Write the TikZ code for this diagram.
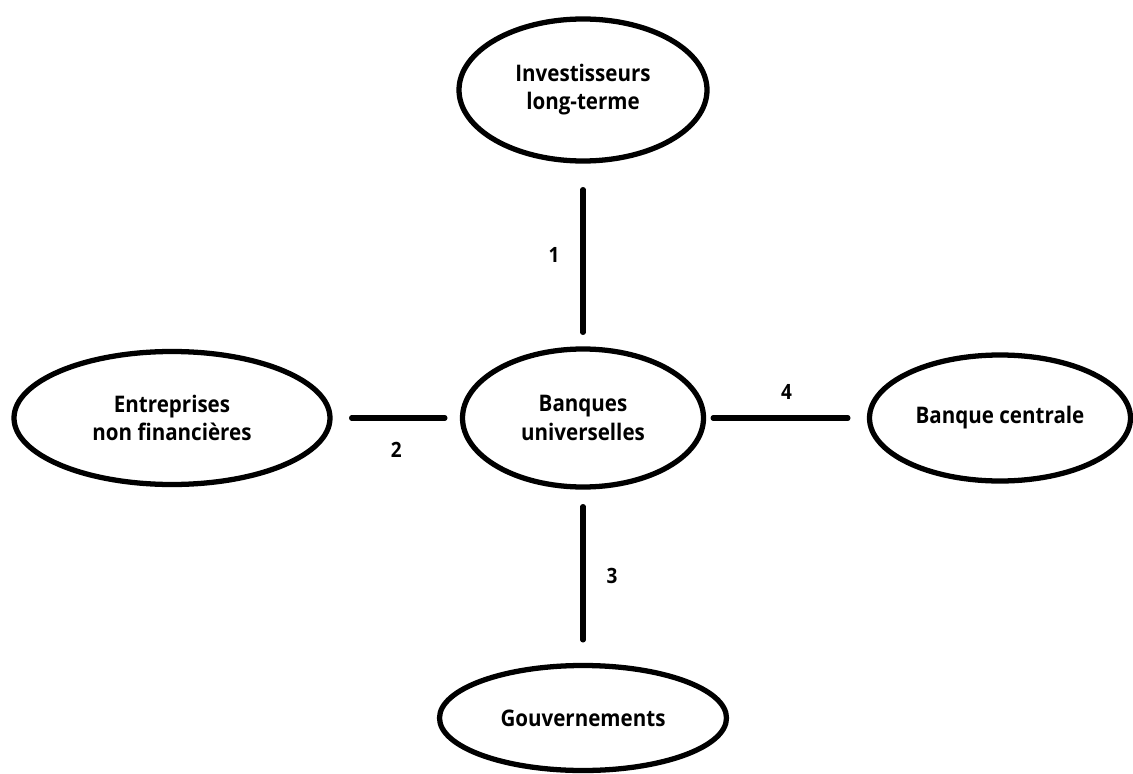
\documentclass[tikz,border=0pt]{standalone}
\usepackage{fontspec}
\setmainfont[FakeStretch=0.9]{Open Sans}
\usetikzlibrary{shapes.geometric}

\begin{document}
\begin{tikzpicture}[agent/.style = {ellipse, draw, line width=3pt, align=center,
            inner sep=0pt, font=\bfseries\fontsize{13}{16}\selectfont},
            link/.style = {line width=3pt, line cap=round},
            num/.style = {inner sep=0pt, font=\bfseries\fontsize{12}{13}\selectfont}]
            \useasboundingbox (0,0) rectangle (22.66,15.46);

            \node[agent,
            minimum width = 4.96cm,
            minimum height = 2.84cm] (invest) at (11.66,13.66) {Investisseurs\\long-terme};

            \node[agent,
            minimum width = 4.82cm,
            minimum height = 2.76cm] (banques) at (11.66,7.10) {Banques\\universelles};

            \node[agent,
            minimum width = 6.32cm,
            minimum height = 2.66cm] (entreprises) at (3.44,7.10) {Entreprises\\non financières};

            \node[agent,
            minimum width = 5.22cm,
            minimum height = 2.52cm] (centrale) at (20.0,7.10) {Banque centrale};

            \node[agent,
            minimum width = 5.74cm,
            minimum height = 2.1cm] (gouv) at (11.66,1.10) {Gouvernements};

            \draw[link, shorten <= 0.52cm, shorten >= 0.28cm] (invest) -- (banques)
            node[num, midway, left = 0.42cm] (n1) {1};
            \draw[link, shorten <= 0.38cm, shorten >= 0.30cm] (entreprises) -- (banques)
            node[num, midway, below = 0.44cm] (n2) {2};
            \draw[link, shorten <= 0.34cm, shorten >= 0.46cm] (banques) -- (gouv)
            node[num, midway, right = 0.42cm] (n3) {3};
            \draw[link, shorten <= 0.14cm, shorten >= 0.38cm] (banques) -- (centrale)
            node[num, midway, above = 0.32cm] (n4) {4};
        \end{tikzpicture}
\end{document}
